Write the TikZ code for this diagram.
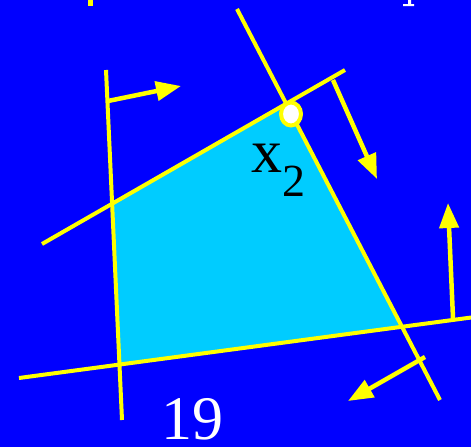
\documentclass[tikz,border=0pt]{standalone}
\usepackage{fontspec}
\setmainfont{Liberation Serif}
\usetikzlibrary{arrows.meta,shapes.geometric}

\definecolor{bgblue}{RGB}{0,0,255}
\definecolor{regioncyan}{RGB}{0,204,255}
\definecolor{lineyellow}{RGB}{255,255,0}

\begin{document}
\begin{tikzpicture}[x=1pt, y=-1pt,
	constraint/.style={draw=lineyellow, line width=4pt},
	normal/.style={draw=lineyellow, line width=4.5pt, -{Triangle[length=25pt, width=19pt]}}]
	\fill[bgblue] (0,0) rectangle (471,447);
	\useasboundingbox (0,0) rectangle (471,447);
	% constraint lines
	\coordinate (L1) at (106,70);  \coordinate (L2) at (122,420);
	\coordinate (U1) at (42,244);  \coordinate (U2) at (345,70);
	\coordinate (R1) at (237,9);   \coordinate (R2) at (440,400);
	\coordinate (B1) at (19,378);  \coordinate (B2) at (475,317);
	\coordinate (vLU) at (intersection of L1--L2 and U1--U2);
	\coordinate (vUR) at (intersection of U1--U2 and R1--R2);
	\coordinate (vRB) at (intersection of R1--R2 and B1--B2);
	\coordinate (vBL) at (intersection of B1--B2 and L1--L2);
	\fill[regioncyan] (vLU) -- (vUR) -- (vRB) -- (vBL) -- cycle;
	\draw[constraint] (L1) -- (L2);
	\draw[constraint] (U1) -- (U2);
	\draw[constraint] (R1) -- (R2);
	\draw[constraint] (B1) -- (B2);
	% normals
	\coordinate (nL) at (108,101);  \coordinate (nLt) at (181,86);
	\coordinate (nU) at (333,80);   \coordinate (nUt) at (377,179);
	\coordinate (nB) at (453,318);  \coordinate (nBt) at (448,203);
	\coordinate (nR) at (425,357);  \coordinate (nRt) at (348,401);
	\draw[normal] (nL) -- (nLt);
	\draw[normal] (nU) -- (nUt);
	\draw[normal] (nB) -- (nBt);
	\draw[normal] (nR) -- (nRt);
	% optimum vertex
	\node (x2dot) [ellipse, draw=lineyellow, line width=4pt, fill=white, minimum width=20pt, minimum height=23pt, inner sep=0pt] at (291,114) {};
	\node (x2) [anchor=base west, inner sep=0pt, font=\fontsize{62}{62}\selectfont] at (251,172) {x\raisebox{-24pt}{\fontsize{46}{46}\selectfont 2}};
	\node (page) [anchor=base west, inner sep=0pt, text depth=0pt, text=white, font=\fontsize{62}{62}\selectfont] at (161,439) {19};
	% title fragments cut at the top edge
	\fill[lineyellow] (88,0) rectangle (93,6);
	\fill[white] (408,0) rectangle (411,5) (403,4) rectangle (414,6);
\end{tikzpicture}
\end{document}
